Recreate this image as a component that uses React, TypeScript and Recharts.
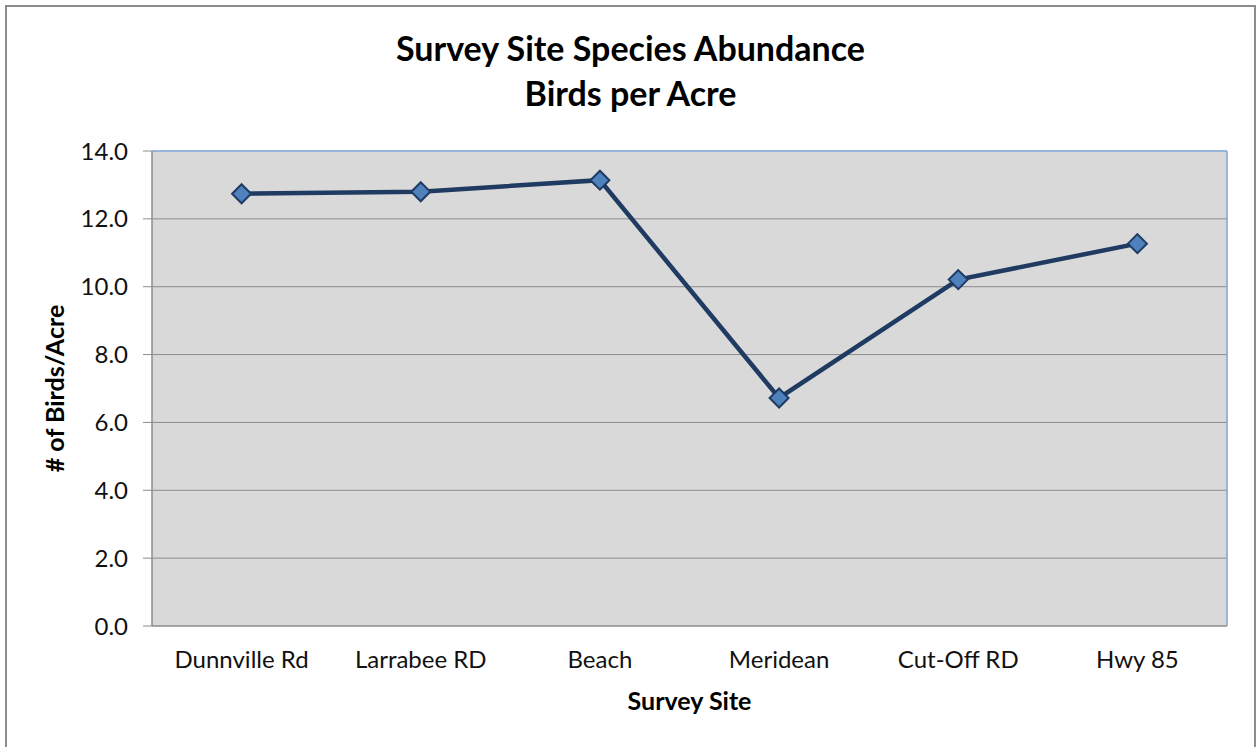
import React from "react";
import {
  CartesianGrid,
  Label,
  Line,
  LineChart,
  ReferenceLine,
  XAxis,
  YAxis,
} from "recharts";

const sites = ["Dunnville Rd", "Larrabee RD", "Beach", "Meridean", "Cut-Off RD", "Hwy 85"];
const birdsPerAcre = [12.74, 12.8, 13.14, 6.72, 10.21, 11.27];
const yTicks = [0, 2, 4, 6, 8, 10, 12, 14];
const boundaryTicks = [0, 1, 2, 3, 4, 5, 6];
const centerTicks = [0.5, 1.5, 2.5, 3.5, 4.5, 5.5];

const data = sites.map((site, i) => ({ pos: i + 0.5, site, value: birdsPerAcre[i] }));

const FONT = "Lato, 'Open Sans', sans-serif";
const GRID = "#8C8C8C";

function Diamond(props: any) {
  const { cx, cy } = props;
  if (cx == null || cy == null) return null;
  const r = 9.5;
  return (
    <polygon
      points={`${cx},${cy - r} ${cx + r},${cy} ${cx},${cy + r} ${cx - r},${cy}`}
      fill="#4F81BD"
      stroke="#1F3B62"
      strokeWidth={2}
    />
  );
}

export default function App() {
  return (
    <div
      style={{
        position: "absolute",
        left: 0,
        top: 0,
        width: 1257,
        height: 747,
        background: "#fff",
        fontFamily: FONT,
        overflow: "hidden",
      }}
    >
      <div
        style={{
          position: "absolute",
          left: 5,
          top: 5,
          width: 1247,
          height: 760,
          border: "2.5px solid #8C8C8C",
        }}
      />
      <div
        style={{
          position: "absolute",
          left: 2,
          top: 25,
          width: 1257,
          textAlign: "center",
          fontWeight: 700,
          fontSize: 34,
          lineHeight: "45px",
          color: "#000",
        }}
      >
        Survey Site Species Abundance
        <br />
        Birds per Acre
      </div>
      <LineChart
        width={1257}
        height={747}
        data={data}
        margin={{ top: 151, right: 30, left: 0, bottom: 0 }}
        style={{ position: "absolute", left: 0, top: 0 }}
      >
        <CartesianGrid fill="#D9D9D9" stroke={GRID} strokeWidth={1} />
        <XAxis
          dataKey="pos"
          type="number"
          domain={[0, 6]}
          ticks={boundaryTicks}
          tick={false}
          tickSize={8}
          height={8}
          axisLine={{ stroke: GRID }}
          tickLine={{ stroke: GRID }}
        />
        <XAxis
          xAxisId="lab"
          dataKey="pos"
          type="number"
          domain={[0, 6]}
          ticks={centerTicks}
          tickFormatter={(v: number) => sites[Math.floor(v)]}
          tick={{ fill: "#111", fontSize: 24, fontFamily: FONT }}
          tickLine={false}
          axisLine={false}
          tickSize={0}
          tickMargin={17}
          height={113}
        >
          <Label
            value="Survey Site"
            position="insideBottom"
            offset={37}
            style={{ fill: "#000", fontSize: 25, fontWeight: 700, fontFamily: FONT }}
          />
        </XAxis>
        <YAxis
          type="number"
          domain={[0, 14]}
          ticks={yTicks}
          tickFormatter={(v: number) => v.toFixed(1)}
          tick={{ fill: "#111", fontSize: 24, fontFamily: FONT }}
          tickSize={9}
          tickMargin={15}
          width={152}
          axisLine={{ stroke: GRID }}
          tickLine={{ stroke: GRID }}
        >
          <Label
            value="# of Birds/Acre"
            angle={-90}
            position="insideLeft"
            offset={55}
            style={{ textAnchor: "middle", fill: "#000", fontSize: 25, fontWeight: 700, fontFamily: FONT }}
          />
        </YAxis>
        <ReferenceLine y={14} stroke="#8EB4E3" strokeWidth={1.5} />
        <ReferenceLine x={6} stroke="#8EB4E3" strokeWidth={1.5} />
        <Line
          dataKey="value"
          stroke="#1F3B62"
          strokeWidth={4.5}
          dot={<Diamond />}
          activeDot={false}
          isAnimationActive={false}
        />
      </LineChart>
    </div>
  );
}
